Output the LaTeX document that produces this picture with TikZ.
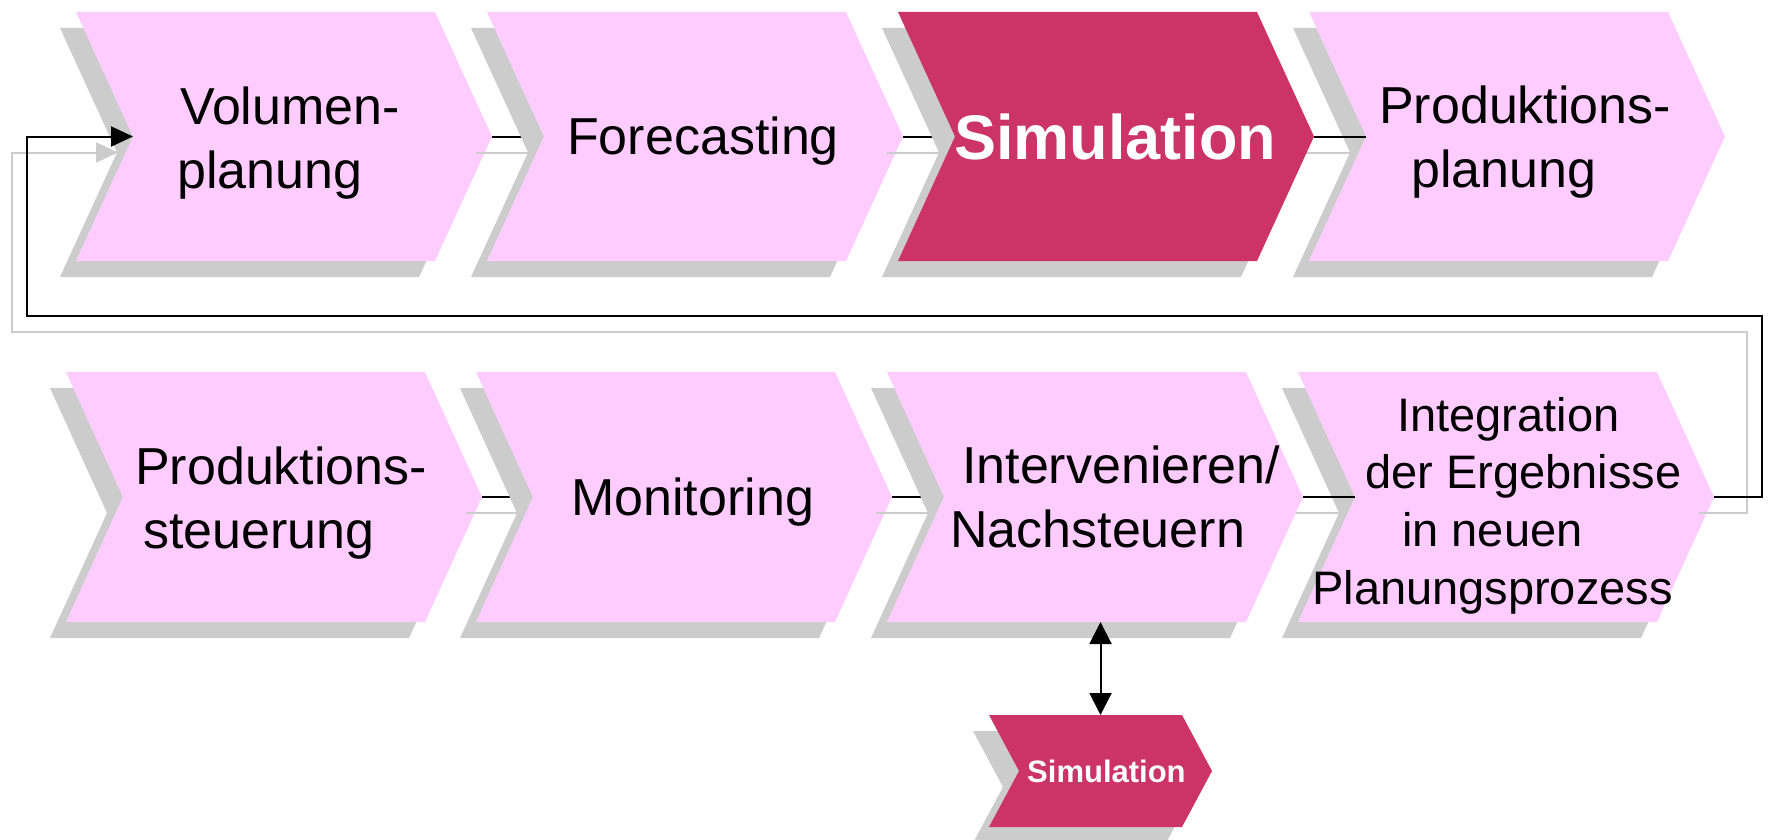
\documentclass[tikz,border=0pt]{standalone}
\usepackage{fontspec}
\setmainfont{Liberation Sans}
\usetikzlibrary{arrows.meta}

\definecolor{chevpink}{HTML}{FFCCFF}
\definecolor{chevred}{HTML}{CC3366}
\definecolor{shade}{HTML}{CCCCCC}

\tikzset{
  plain/.style={fill=chevpink},
  accent/.style={fill=chevred},
  shadowfill/.style={fill=shade},
  flow/.style={draw=black, line width=2pt},
  flowshadow/.style={draw=shade, line width=2pt},
  label/.style={inner sep=0pt, anchor=north west, align=left,
    font=\fontsize{52}{64}\selectfont},
  boldlabel/.style={label, text=white, font=\fontsize{63}{75}\selectfont\bfseries},
  tip/.style={-{Triangle[length=22pt,width=20pt]}},
}

% corner points of a chevron: name, left x, top y, flat width, height, point depth
\newcommand\chevpoints[6]{%
  \coordinate (#1-nw) at (#2,#3);
  \coordinate (#1-ne) at (#2+#4,#3);
  \coordinate (#1-out) at (#2+#4+#6,#3+#5/2);
  \coordinate (#1-se) at (#2+#4,#3+#5);
  \coordinate (#1-sw) at (#2,#3+#5);
  \coordinate (#1-in) at (#2+#6,#3+#5/2);
  \coordinate (#1-north) at (#2+#4/2+#6/2,#3);
  \coordinate (#1-south) at (#2+#4/2+#6/2,#3+#5);
}
% chevron with its drop shadow
\newcommand\chevfill[2]{%
  \fill[shadowfill, transform canvas={shift={(-16pt,-16pt)}}]
    (#1-nw) -- (#1-ne) -- (#1-out) -- (#1-se) -- (#1-sw) -- (#1-in) -- cycle;
  \fill[#2]
    (#1-nw) -- (#1-ne) -- (#1-out) -- (#1-se) -- (#1-sw) -- (#1-in) -- cycle;
}
% drop shadow of a connector, and the connector itself
\newcommand\linkshadow[2]{%
  \draw[flowshadow, transform canvas={shift={(-16pt,-16pt)}}] (#1-out) -- (#2-in);
}
\newcommand\linkline[2]{%
  \draw[flow] (#1-out) -- (#2-in);
}
\newcommand\flowlink[2]{\linkshadow{#1}{#2}\linkline{#1}{#2}}

\begin{document}
\begin{tikzpicture}[x=1pt, y=-1pt]
\useasboundingbox (0,0) rectangle (1771,840);

% top row
\chevpoints{c1}{76}{12}{359}{249}{57}
\chevpoints{c2}{487}{12}{359}{249}{57}
\chevpoints{c3}{898}{12}{359}{249}{57}
\chevpoints{c4}{1309}{12}{359}{249}{57}
% bottom row
\chevpoints{c5}{66}{372}{359}{250}{57}
\chevpoints{c6}{476}{372}{359}{250}{57}
\chevpoints{c7}{887}{372}{359}{250}{57}
\chevpoints{c8}{1298}{372}{359}{250}{57}
% detached simulation step
\chevpoints{sim}{989}{715}{193}{112}{30}

\chevfill{c1}{plain}
\flowlink{c1}{c2}
\chevfill{c2}{plain}
\flowlink{c2}{c3}
\linkshadow{c3}{c4}
\chevfill{c3}{accent}
\chevfill{c4}{plain}
\linkline{c3}{c4}

\chevfill{c5}{plain}
\flowlink{c5}{c6}
\chevfill{c6}{plain}
\flowlink{c6}{c7}
\linkshadow{c7}{c8}
\chevfill{c7}{plain}
\chevfill{c8}{plain}
\linkline{c7}{c8}

% feedback loop from the last step back to the first
\coordinate (fbR) at (1762,316);
\coordinate (fbL) at (27,316);
\draw[flowshadow, tip, transform canvas={shift={(-15pt,-16pt)}}]
  (c8-out) -| (fbR) -- (fbL) |- (c1-in);
\draw[flow, tip] (c8-out) -| (fbR) -- (fbL) |- (c1-in);

% link to the detached simulation
\chevfill{sim}{accent}
\draw[flow, {Triangle[length=22pt,width=22pt]}-{Triangle[length=22pt,width=22pt]}]
  (sim-north |- c7-south) -- (sim-north);

% labels
\node[label] (t1) at (177,87) {\hspace*{3pt}Volumen-\\planung};
\node[label] (t2) at (567,117) {Forecasting};
\node[boldlabel] (t3) at (954,114) {Simulation};
\node[label] (t4) at (1379,86) {Produktions-\\\hspace*{32pt}planung};
\node[label] (t5) at (135,447) {Produktions-\\\hspace*{8pt}steuerung};
\node[label] (t6) at (571,478) {Monitoring};
\node[label] (t7) at (950,446) {\hspace*{12pt}Intervenieren/\\Nachsteuern};
\node[label, font=\fontsize{47}{57.7}\selectfont] (t8) at (1312,397)
  {\hspace*{85pt}Integration\\\hspace*{53pt}der Ergebnisse\\\hspace*{90pt}in neuen\\Planungsprozess};
\node[boldlabel, font=\fontsize{31}{37}\selectfont\bfseries] (t9) at (1027,760) {Simulation};
\end{tikzpicture}
\end{document}
